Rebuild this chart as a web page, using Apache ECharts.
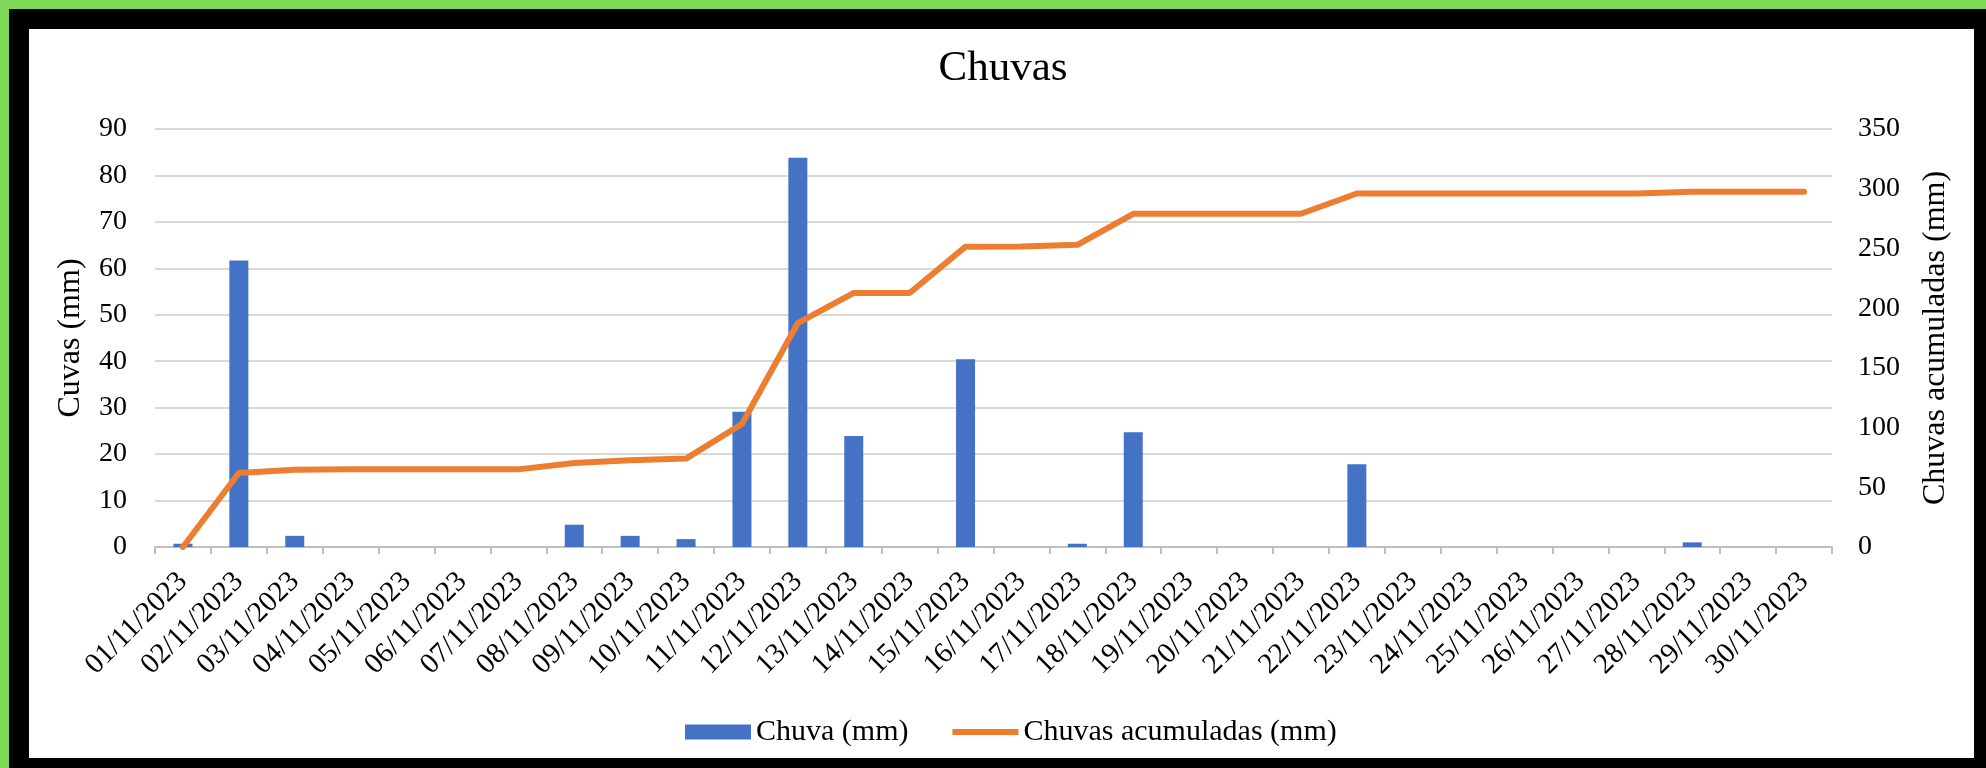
<!DOCTYPE html>
<html>
<head>
<meta charset="utf-8">
<script src="https://cdn.jsdelivr.net/npm/echarts@6/dist/echarts.min.js"></script>
<style>
  html, body { margin: 0; padding: 0; background: #000; }
  #frame { position: absolute; left: 0; top: 0; width: 1986px; height: 768px; background: #000; overflow: hidden; }
  #greenTop { position: absolute; left: 0; top: 0; width: 1986px; height: 9px; background: #7ED957; }
  #greenLeft { position: absolute; left: 0; top: 0; width: 9px; height: 768px; background: #7ED957; }
  #panel { position: absolute; left: 29px; top: 29px; width: 1945px; height: 729px; background: #fff; }
  #chart { position: absolute; left: 0; top: 0; width: 1986px; height: 768px; }
</style>
</head>
<body>
<div id="frame">
  <div id="greenTop"></div>
  <div id="greenLeft"></div>
  <div id="panel"></div>
  <div id="chart"></div>
</div>
<script>
const categories = [
  '01/11/2023','02/11/2023','03/11/2023','04/11/2023','05/11/2023','06/11/2023',
  '07/11/2023','08/11/2023','09/11/2023','10/11/2023','11/11/2023','12/11/2023',
  '13/11/2023','14/11/2023','15/11/2023','16/11/2023','17/11/2023','18/11/2023',
  '19/11/2023','20/11/2023','21/11/2023','22/11/2023','23/11/2023','24/11/2023',
  '25/11/2023','26/11/2023','27/11/2023','28/11/2023','29/11/2023','30/11/2023'
];
const chuva = [0.7, 61.7, 2.4, 0, 0, 0, 0, 4.8, 2.4, 1.7, 29.1, 83.8, 23.9, 0, 40.4,
  0, 0.7, 24.7, 0, 0, 0, 17.8, 0, 0, 0, 0, 0, 1.0, 0, 0];
const acumulada = [0, 62, 64.7, 65, 65, 65, 65, 70.3, 72.6, 74, 103, 187.5, 212.7, 212.7, 251.5,
  251.7, 253, 279, 279, 279, 279, 296, 296, 296, 296, 296, 296, 297.5, 297.5, 297.5];
const leftTicks = { min: 0, max: 90, interval: 10 };
const rightTicks = { min: 0, max: 350, interval: 50 };

const FONT = "'Liberation Serif', 'Times New Roman', serif";
const chart = echarts.init(document.getElementById('chart'), null, { renderer: 'canvas' });
chart.setOption({
  backgroundColor: 'transparent',
  animation: false,
  title: {
    text: 'Chuvas',
    left: 998,
    textAlign: 'center',
    top: 42,
    textStyle: { fontFamily: FONT, fontSize: 43, fontWeight: 'normal', color: '#000' }
  },
  legend: {
    bottom: 16,
    left: 680,
    itemGap: 44,
    itemWidth: 66,
    itemHeight: 15,
    textStyle: { fontFamily: FONT, fontSize: 30, color: '#000' },
    data: [
      { name: 'Chuva (mm)', icon: 'rect', itemStyle: { color: '#4472C4' } },
      { name: 'Chuvas acumuladas (mm)', icon: 'path://M0,0 L66,0 L66,6 L0,6 Z', itemStyle: { color: '#ED7D31' } }
    ]
  },
  grid: {
    left: 155, right: 154, top: 129, bottom: 221,
    containLabel: false,
    outerBoundsMode: 'none'
  },
  xAxis: {
    type: 'category',
    data: categories,
    boundaryGap: true,
    axisLine: { show: true, lineStyle: { color: '#BFBFBF', width: 2 } },
    axisTick: { show: true, length: 7, alignWithLabel: false, lineStyle: { color: '#BFBFBF', width: 2 } },
    axisLabel: { interval: 0, rotate: 45, margin: 30, fontFamily: FONT, fontSize: 29, color: '#000' },
    splitLine: { show: false }
  },
  yAxis: [
    {
      type: 'value',
      min: leftTicks.min, max: leftTicks.max, interval: leftTicks.interval,
      name: 'Cuvas (mm)',
      nameLocation: 'middle',
      nameRotate: 90,
      nameGap: 68,
      nameTextStyle: { fontFamily: FONT, fontSize: 32, color: '#000' },
      axisLine: { show: false },
      axisTick: { show: false },
      axisLabel: { margin: 28, fontFamily: FONT, fontSize: 28, color: '#000' },
      splitLine: { show: true, lineStyle: { color: '#D9D9D9', width: 2 } }
    },
    {
      type: 'value',
      position: 'right',
      min: rightTicks.min, max: rightTicks.max, interval: rightTicks.interval,
      name: 'Chuvas acumuladas (mm)',
      nameLocation: 'middle',
      nameRotate: 90,
      nameGap: 88,
      nameTextStyle: { fontFamily: FONT, fontSize: 32, color: '#000' },
      axisLine: { show: false },
      axisTick: { show: false },
      axisLabel: { margin: 26, fontFamily: FONT, fontSize: 28, color: '#000' },
      splitLine: { show: false }
    }
  ],
  series: [
    {
      name: 'Chuva (mm)',
      type: 'bar',
      data: chuva,
      yAxisIndex: 0,
      barWidth: 19,
      itemStyle: { color: '#4472C4' },
      z: 2
    },
    {
      name: 'Chuvas acumuladas (mm)',
      type: 'line',
      data: acumulada,
      yAxisIndex: 1,
      symbol: 'none',
      lineStyle: { color: '#ED7D31', width: 6, cap: 'round', join: 'round' },
      itemStyle: { color: '#ED7D31' },
      z: 3
    }
  ]
});
</script>
</body>
</html>
